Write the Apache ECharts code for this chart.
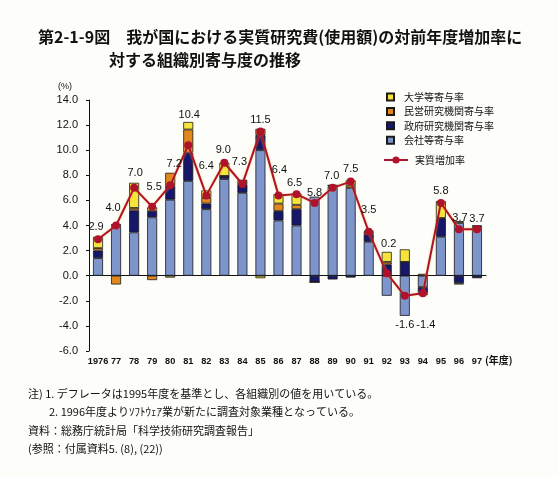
<!DOCTYPE html>
<html>
<head>
<meta charset="utf-8">
<script src="https://cdn.jsdelivr.net/npm/echarts@6/dist/echarts.min.js"></script>
<style>
html,body{margin:0;padding:0;background:#fdfdf9;}
#chart{width:558px;height:477px;}
</style>
</head>
<body>
<div id="chart"></div>
<script>
// ---- data ----
const years = ['1976','77','78','79','80','81','82','83','84','85','86','87','88','89','90','91','92','93','94','95','96','97'];
const company    = [1.4, 3.95, 3.45, 4.65, 6.05, 7.55, 5.3, 7.7, 6.6, 10.0, 4.4, 4.0, 6.3, 7.1, 7.0, 2.7, -1.6, -3.2, -0.9, 3.1, 4.2, 3.8];
const government = [0.6, 0.1, 1.75, 0.5, 1.1, 2.25, 0.45, 0.25, 0.7, 1.2, 0.75, 1.3, -0.5, -0.3, -0.15, 0.6, 0.9, 1.1, -0.5, 1.45, -0.6, -0.2];
const privateInst = [0.2, -0.7, 0.2, -0.35, 1.05, 1.85, 0.45, 0, 0.25, 0.5, 0.6, 0.35, 0, 0.1, 0.2, 0.2, 0.2, 0, 0.15, 0.05, 0.15, 0.15];
const university = [0.9, 0.05, 2.0, 0.3, -0.15, 0.6, 0.6, 1.05, 0.1, -0.2, 0.75, 0.9, 0, 0, 0.4, 0.1, 0.8, 1.0, -0.15, 1.35, -0.1, 0.05];
const growth     = [2.9, 4.0, 7.0, 5.5, 7.2, 10.4, 6.4, 9.0, 7.3, 11.5, 6.4, 6.5, 5.8, 7.0, 7.5, 3.5, 0.2, -1.6, -1.4, 5.8, 3.7, 3.7];
const yTicks = { min: -6, max: 14, interval: 2 };
const seriesNames = ['大学等寄与率', '民営研究機関寄与率', '政府研究機関寄与率', '会社等寄与率', '実質増加率'];

// ---- label placement (style) ----
const labelShift = [
  [-2,-3],[-3,-8],[1,-5],[2,-10],[4,-12],[1,-21],[0,-20],[-1,-3],[-3,-13],[0,-2],
  [1,-16],[-2,-2],[0,0],[-1,-2],[0,-3],[0,-12],[2,-20],[0,39],[3,41],[0,-2],[1,-2],[0,-1]
];

const colors = { univ:'#f6e43c', priv:'#e0871e', gov:'#17176a', comp:'#7d95cb', line:'#b0122c' };
const border = { borderColor:'#1a1a1a', borderWidth:0.8 };

const chart = echarts.init(document.getElementById('chart'), null, {renderer:'canvas'});

function barSeries(name, data, color) {
  return {
    name, type:'bar', stack:'total', data, barWidth:10,
    itemStyle:Object.assign({ color }, border),
    emphasis:{disabled:true}
  };
}

const lineData = growth.map((v,i)=>({
  value:v,
  label:{ offset:[labelShift[i][0], labelShift[i][1]] }
}));

const titleStyle = { fontFamily:'Noto Sans CJK JP', fontSize:16, fontWeight:'bold', color:'#111' };
const noteFont = '11px "Noto Sans CJK JP"';

const option = {
  backgroundColor:'#fdfdf9',
  animation:false,
  title:[
    { text:'第2-1-9図　我が国における実質研究費(使用額)の対前年度増加率に', left:33, top:24, textStyle:titleStyle },
    { text:'対する組織別寄与度の推移', left:104, top:47, textStyle:titleStyle }
  ],
  legend:[
    { data:seriesNames.slice(0,4), orient:'vertical', left:381, top:86,
      itemWidth:7, itemHeight:7, itemGap:2.4, icon:'rect',
      textStyle:{ fontFamily:'Noto Sans CJK JP', fontSize:10, lineHeight:12, color:'#111', padding:[0,0,0,5] } },
    { data:[seriesNames[4]], left:378, top:150,
      itemWidth:24, itemHeight:9,
      textStyle:{ fontFamily:'Noto Sans CJK JP', fontSize:10, color:'#111', padding:[0,0,0,2] } }
  ],
  grid:{ left:89, right:72, top:100, bottom:126 },
  xAxis:[
    { type:'category', data:years, position:'bottom',
      axisLine:{show:false, onZero:false}, axisTick:{show:false},
      axisLabel:{ fontFamily:'Liberation Sans', fontSize:9.2, fontWeight:'bold', color:'#111', margin:6, interval:0 } },
    { type:'category', data:years, position:'bottom',
      axisLine:{show:true, onZero:true, lineStyle:{color:'#111', width:1}},
      axisTick:{show:false}, axisLabel:{show:false} }
  ],
  yAxis:{
    type:'value', min:yTicks.min, max:yTicks.max, interval:yTicks.interval,
    axisLine:{show:true, lineStyle:{color:'#111', width:1}},
    axisTick:{show:true, length:3, lineStyle:{color:'#111'}},
    splitLine:{show:false},
    axisLabel:{ formatter:v=>v.toFixed(1), fontFamily:'Liberation Sans', fontSize:11, color:'#111', margin:11 }
  },
  series:[
    barSeries(seriesNames[3], company, colors.comp),
    barSeries(seriesNames[2], government, colors.gov),
    barSeries(seriesNames[1], privateInst, colors.priv),
    barSeries(seriesNames[0], university, colors.univ),
    { name:seriesNames[4], type:'line', data:lineData, z:5,
      symbol:'circle', symbolSize:8,
      lineStyle:{ color:colors.line, width:2, shadowColor:'rgba(240,190,60,0.7)', shadowBlur:2 },
      itemStyle:{ color:colors.line },
      label:{ show:true, position:'top', distance:0,
        formatter:p=>p.value.toFixed(1),
        fontFamily:'Liberation Sans', fontSize:11, color:'#111' },
      emphasis:{disabled:true} }
  ],
  graphic:[
    { type:'text', left:58, top:82, style:{ text:'(%)', font:'9px "Liberation Sans"', fill:'#111' } },
    { type:'text', left:485, top:355, style:{ text:'(年度)', font:'bold 10px "Noto Sans CJK JP"', fill:'#111' } },
    { type:'text', left:28, top:388, style:{ text:'注) 1. デフレータは1995年度を基準とし、各組織別の値を用いている。', font:noteFont, fill:'#111' } },
    { type:'text', left:49, top:406, style:{ text:'2. 1996年度よりｿﾌﾄｳｪｱ業が新たに調査対象業種となっている。', font:noteFont, fill:'#111' } },
    { type:'text', left:28, top:425, style:{ text:'資料：総務庁統計局「科学技術研究調査報告」', font:noteFont, fill:'#111' } },
    { type:'text', left:28, top:443, style:{ text:'(参照：付属資料5. (8), (22))', font:noteFont, fill:'#111' } }
  ]
};
chart.setOption(option);
</script>
</body>
</html>
